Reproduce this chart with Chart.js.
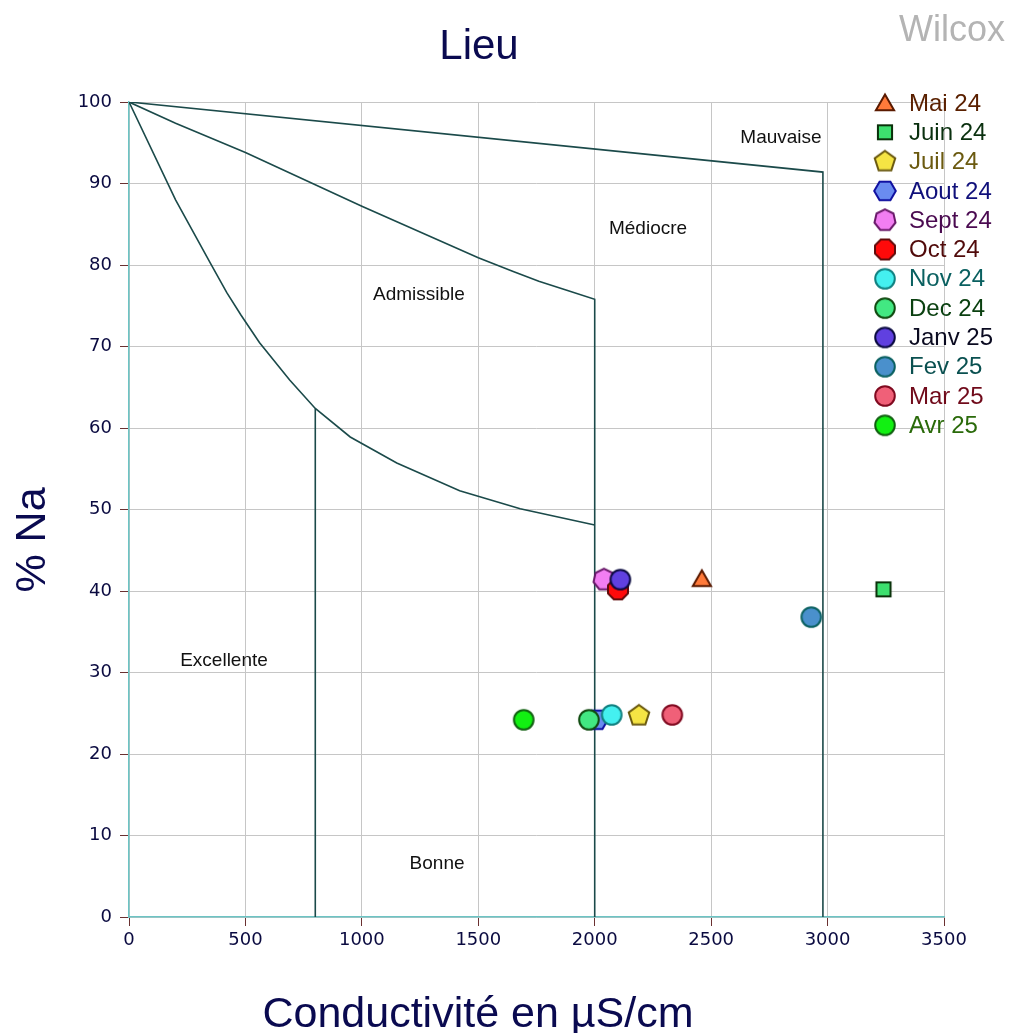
<!DOCTYPE html>
<html>
<head>
<meta charset="utf-8">
<title>Wilcox</title>
<script src="https://cdn.jsdelivr.net/npm/chart.js@4.4.1/dist/chart.umd.min.js"></script>
<style>
  html, body { margin: 0; padding: 0; background: #ffffff; }
  #wrap { width: 1009px; height: 1033px; position: relative; }
</style>
</head>
<body>
<div id="wrap"><canvas id="chart" width="1009" height="1033"></canvas></div>
<script>
// ---- Échantillons mensuels ----
const months = ['Mai 24', 'Juin 24', 'Juil 24', 'Aout 24', 'Sept 24', 'Oct 24',
                'Nov 24', 'Dec 24', 'Janv 25', 'Fev 25', 'Mar 25', 'Avr 25'];
const conductivity = [2460, 3240, 2190, 2010, 2040, 2100, 2073, 1975, 2110, 2930, 2333, 1695];
const sodiumPct    = [41.5, 40.2, 24.7, 24.2, 41.4, 40.2, 24.8, 24.2, 41.4, 36.8, 24.8, 24.2];

// marker shape: number of polygon sides (0 = circle)
const markerSides  = [3, 4, 5, 6, 7, 8, 0, 0, 0, 0, 0, 0];
const markerFill   = ['#ff7a3a', '#3ddf6e', '#f5e444', '#6a8cf0', '#f27ef2', '#ff0a0a',
                      '#44f0f0', '#42e882', '#6040e0', '#4a90cc', '#f06078', '#12f012'];
const markerStroke = ['#5a1a00', '#0a300a', '#6b5a10', '#1010a0', '#6a1a6a', '#600a0a',
                      '#108080', '#104a10', '#0a0a40', '#0a6060', '#800a20', '#106010'];
const legendText   = ['#5a2000', '#0a300f', '#6b5a10', '#10107a', '#4a0a50', '#500a0a',
                      '#0a6060', '#0a4010', '#0a0a20', '#0a5050', '#700a1a', '#2a6a0a'];

// ---- Limites des classes de Wilcox ----
const c1X = [0, 200, 350, 420, 480, 560, 690, 800, 950, 1150, 1420, 1680, 2000];
const c1Y = [100, 88, 80.2, 76.6, 73.9, 70.5, 65.9, 62.4, 58.9, 55.7, 52.3, 50.1, 48.1];
const c2X = [0, 200, 500, 1000, 1500, 1650, 1760, 1880, 2000, 2000];
const c2Y = [100, 97.4, 93.8, 87.2, 80.9, 79.2, 78.0, 76.9, 75.8, 0];
const c3X = [0, 2980, 2980];
const c3Y = [100, 91.4, 0];
const c4X = [800, 800];
const c4Y = [62.4, 0];

// ---- Axes ----
const xTicks = [0, 500, 1000, 1500, 2000, 2500, 3000, 3500];
const yTicks = [0, 10, 20, 30, 40, 50, 60, 70, 80, 90, 100];

// ---- Noms des classes ----
const zoneNames = ['Excellente', 'Bonne', 'Admissible', 'Médiocre', 'Mauvaise'];
const zoneX = [408, 1323, 1245, 2229, 2800];
const zoneY = [31.5, 6.5, 76.4, 84.5, 95.6];

const chartTitle = 'Lieu';
const cornerTitle = 'Wilcox';
const xTitle = 'Conductivité en µS/cm';
const yTitle = '% Na';

const SANS = '"Liberation Sans", Arial, sans-serif';
const NAVY = '#0a0a50';

function makeMarker(sides, fill, stroke) {
  const size = 28;
  const c = document.createElement('canvas');
  c.width = size; c.height = size;
  const g = c.getContext('2d');
  const cx = size / 2, cy = size / 2;
  g.beginPath();
  if (sides === 0) {
    g.arc(cx, cy, 9.8, 0, Math.PI * 2);
  } else {
    const radius = { 3: 10.5, 4: 10, 5: 10.8, 6: 10.8, 7: 10.8, 8: 10.8 }[sides];
    const rot = { 3: -Math.PI / 2, 4: Math.PI / 4, 5: -Math.PI / 2, 6: 0, 7: -Math.PI / 2, 8: Math.PI / 8 }[sides];
    const dy = sides === 3 ? 2 : 0;
    for (let k = 0; k < sides; k++) {
      const a = rot + (2 * Math.PI * k) / sides;
      const px = cx + radius * Math.cos(a);
      const py = cy + dy + radius * Math.sin(a);
      if (k === 0) g.moveTo(px, py); else g.lineTo(px, py);
    }
    g.closePath();
  }
  g.fillStyle = fill;
  g.fill();
  g.lineWidth = 2;
  g.lineJoin = 'miter';
  g.strokeStyle = stroke;
  g.stroke();
  return c;
}

const markers = months.map((m, i) => makeMarker(markerSides[i], markerFill[i], markerStroke[i]));

const toPoints = (xs, ys) => xs.map((x, i) => ({ x: x, y: ys[i] }));
const LIMIT_COLOR = '#1b4a4a';
const limitDataset = (xs, ys) => ({
  label: '',
  data: toPoints(xs, ys),
  showLine: true,
  borderColor: LIMIT_COLOR,
  borderWidth: 1.6,
  pointRadius: 0,
  pointHoverRadius: 0,
  tension: 0,
  fill: false,
  order: 100
});

const sampleDatasets = months.map((m, i) => ({
  label: m,
  data: [{ x: conductivity[i], y: sodiumPct[i] }],
  pointStyle: markers[i],
  pointRadius: 10,
  pointHoverRadius: 10,
  backgroundColor: markerFill[i],
  borderColor: markerStroke[i],
  order: -i
}));

// Titles, zone names and the legend column
const textPlugin = {
  id: 'wilcoxTexts',
  afterDatasetsDraw(chart) {
    const ctx = chart.ctx;
    const xs = chart.scales.x, ys = chart.scales.y;
    ctx.save();
    ctx.fillStyle = '#111111';
    ctx.font = '19px ' + SANS;
    ctx.textAlign = 'center';
    ctx.textBaseline = 'middle';
    zoneNames.forEach((name, i) => {
      ctx.fillText(name, xs.getPixelForValue(zoneX[i]), ys.getPixelForValue(zoneY[i]));
    });
    ctx.restore();
  },
  afterDraw(chart) {
    const ctx = chart.ctx;
    ctx.save();
    ctx.textBaseline = 'alphabetic';
    ctx.fillStyle = NAVY;
    ctx.font = '42px ' + SANS;
    ctx.textAlign = 'center';
    ctx.fillText(chartTitle, 479, 59);
    ctx.fillStyle = '#b4b4b4';
    ctx.font = '36px ' + SANS;
    ctx.textAlign = 'right';
    ctx.fillText(cornerTitle, 1005, 41);
    ctx.fillStyle = NAVY;
    ctx.font = '43px ' + SANS;
    ctx.textAlign = 'center';
    ctx.fillText(xTitle, 478, 1027);
    ctx.translate(45, 540);
    ctx.rotate(-Math.PI / 2);
    ctx.fillText(yTitle, 0, 0);
    ctx.restore();

    ctx.save();
    ctx.font = '24px ' + SANS;
    ctx.textAlign = 'left';
    ctx.textBaseline = 'middle';
    const top = 103, step = 29.3;
    months.forEach((m, i) => {
      const y = top + i * step;
      const img = markers[i];
      ctx.drawImage(img, 885 - img.width / 2, y - img.height / 2);
      ctx.fillStyle = legendText[i];
      ctx.fillText(m, 909, y + 1);
    });
    ctx.restore();
  }
};

const tickFont = { family: '"DejaVu Sans", sans-serif', size: 18 };

new Chart(document.getElementById('chart'), {
  type: 'scatter',
  data: {
    datasets: [
      limitDataset(c1X, c1Y),
      limitDataset(c2X, c2Y),
      limitDataset(c3X, c3Y),
      limitDataset(c4X, c4Y),
      ...sampleDatasets
    ]
  },
  options: {
    responsive: false,
    animation: false,
    devicePixelRatio: 1,
    layout: { padding: { left: 0, top: 102, right: 65, bottom: 0 } },
    plugins: {
      legend: { display: false },
      tooltip: { enabled: false },
      title: { display: false }
    },
    events: [],
    scales: {
      x: {
        type: 'linear',
        min: xTicks[0],
        max: xTicks[xTicks.length - 1],
        afterBuildTicks: (scale) => { scale.ticks = xTicks.map(v => ({ value: v })); },
        afterFit: (scale) => { scale.height = 116; },
        ticks: {
          color: '#0a0a40',
          font: tickFont,
          padding: 4,
          maxRotation: 0,
          autoSkip: false,
          callback: (v) => String(v)
        },
        grid: { color: '#c6c6c6', lineWidth: 1, tickLength: 9, tickColor: '#6a3030', tickWidth: 1 },
        border: { color: '#6cc4c4', width: 1.5 }
      },
      y: {
        type: 'linear',
        min: yTicks[0],
        max: yTicks[yTicks.length - 1],
        afterBuildTicks: (scale) => { scale.ticks = yTicks.map(v => ({ value: v })); },
        afterFit: (scale) => { scale.width = 129; },
        ticks: {
          color: '#0a0a40',
          font: tickFont,
          padding: 8,
          autoSkip: false,
          callback: (v) => String(v)
        },
        grid: { color: '#c6c6c6', lineWidth: 1, tickLength: 9, tickColor: '#6a3030', tickWidth: 1 },
        border: { color: '#6cc4c4', width: 1.5 }
      }
    }
  },
  plugins: [textPlugin]
});
</script>
</body>
</html>
